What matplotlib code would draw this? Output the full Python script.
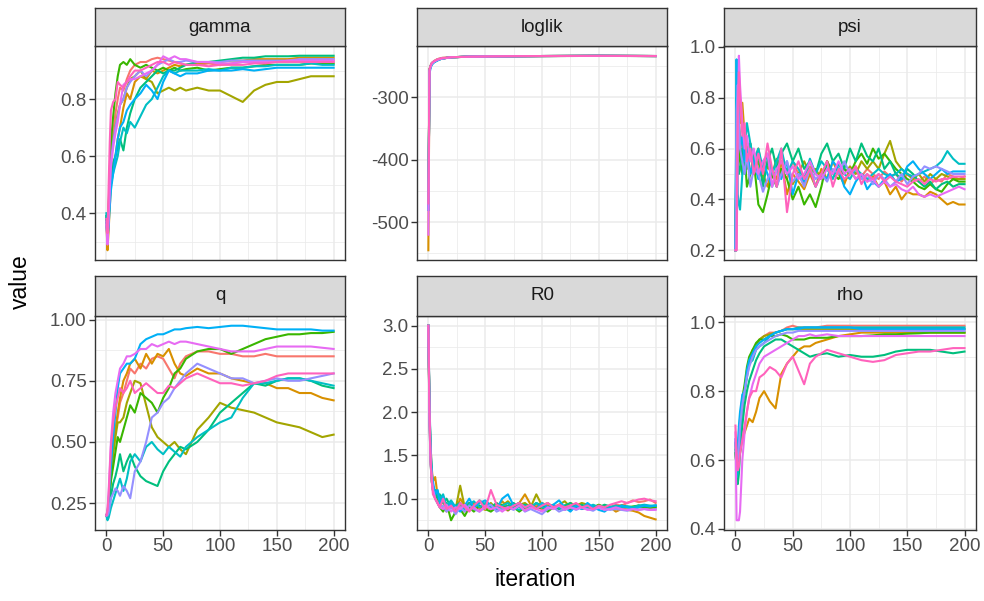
import matplotlib
matplotlib.use("Agg")
import matplotlib.pyplot as plt
from matplotlib.ticker import FixedLocator
import numpy as np

plt.rcParams['font.family'] = ['Liberation Sans', 'DejaVu Sans']

# ---------------- data ----------------
chain_colors = ["#F8766D", "#D89000", "#A3A500", "#39B600", "#00BF7D",
                "#00BFC4", "#00B0F6", "#9590FF", "#E76BF3", "#FF62BC"]

it_trend = [0, 1, 2, 3, 4, 6, 8, 10, 12, 15, 18, 21, 25, 30, 35, 40, 45, 50, 55, 60,
            65, 70, 80, 90, 100, 110, 120, 130, 140, 150, 160, 170, 180, 190, 200]
it_fast = [0, 1, 2, 3, 4, 6, 8, 10, 13, 16, 20, 24, 28, 32, 36, 40, 45, 50, 55, 60,
           65, 70, 75, 80, 85, 90, 95, 100, 105, 110, 115, 120, 125, 130, 135, 140,
           145, 150, 155, 160, 165, 170, 175, 180, 185, 190, 195, 200]
it_ll = [0, 1, 2, 3, 5, 8, 12, 20, 35, 60, 100, 150, 200]

gamma = [
    [0.38,0.32,0.42,0.52,0.6,0.68,0.75,0.8,0.84,0.83,0.87,0.9,0.92,0.93,0.93,0.94,0.945,0.94,0.935,0.93,0.925,0.92,0.92,0.925,0.92,0.925,0.93,0.93,0.93,0.93,0.93,0.935,0.935,0.935,0.935],
    [0.37,0.27,0.34,0.42,0.5,0.56,0.6,0.66,0.7,0.77,0.82,0.8,0.86,0.88,0.87,0.9,0.89,0.9,0.91,0.92,0.915,0.92,0.925,0.93,0.93,0.935,0.935,0.94,0.94,0.94,0.94,0.945,0.945,0.945,0.945],
    [0.39,0.31,0.4,0.5,0.58,0.66,0.7,0.75,0.78,0.8,0.84,0.87,0.88,0.9,0.87,0.86,0.82,0.83,0.84,0.83,0.84,0.83,0.84,0.83,0.83,0.81,0.79,0.83,0.85,0.86,0.86,0.87,0.88,0.88,0.88],
    [0.38,0.3,0.42,0.55,0.65,0.74,0.82,0.88,0.92,0.93,0.92,0.94,0.92,0.91,0.92,0.91,0.9,0.91,0.9,0.91,0.9,0.905,0.91,0.9,0.905,0.91,0.91,0.915,0.92,0.92,0.92,0.92,0.925,0.925,0.925],
    [0.39,0.3,0.38,0.46,0.52,0.58,0.6,0.63,0.66,0.62,0.7,0.75,0.8,0.84,0.86,0.88,0.9,0.89,0.9,0.9,0.91,0.92,0.93,0.93,0.935,0.94,0.945,0.945,0.95,0.95,0.95,0.952,0.952,0.952,0.952],
    [0.4,0.32,0.38,0.45,0.5,0.54,0.57,0.6,0.65,0.7,0.68,0.72,0.7,0.74,0.78,0.8,0.84,0.88,0.9,0.89,0.9,0.9,0.9,0.905,0.9,0.91,0.91,0.915,0.915,0.92,0.92,0.92,0.925,0.92,0.92],
    [0.38,0.3,0.36,0.42,0.48,0.54,0.6,0.66,0.7,0.72,0.76,0.78,0.8,0.82,0.85,0.83,0.8,0.86,0.9,0.89,0.88,0.89,0.89,0.9,0.9,0.9,0.905,0.9,0.905,0.91,0.91,0.91,0.91,0.91,0.91],
    [0.37,0.3,0.4,0.5,0.58,0.65,0.7,0.74,0.78,0.8,0.84,0.86,0.88,0.9,0.88,0.9,0.92,0.93,0.94,0.93,0.93,0.935,0.93,0.93,0.93,0.935,0.935,0.935,0.935,0.935,0.935,0.94,0.94,0.94,0.94],
    [0.36,0.29,0.38,0.48,0.56,0.63,0.68,0.72,0.78,0.85,0.86,0.87,0.87,0.88,0.89,0.9,0.92,0.95,0.94,0.95,0.94,0.94,0.93,0.93,0.925,0.925,0.93,0.93,0.93,0.93,0.935,0.935,0.935,0.935,0.935],
    [0.38,0.33,0.5,0.65,0.76,0.79,0.8,0.86,0.85,0.84,0.86,0.88,0.9,0.9,0.91,0.92,0.93,0.93,0.92,0.93,0.925,0.92,0.92,0.915,0.92,0.92,0.92,0.925,0.925,0.93,0.93,0.93,0.93,0.93,0.93],
]

loglik = [
    [-480,-256,-250,-246,-243,-240,-238,-236,-235,-234.5,-234,-233.8,-234],
    [-545,-257,-251,-247,-243,-240,-238,-236,-235,-234.5,-234,-233.6,-234],
    [-480,-255,-249,-246,-242,-239,-237,-236,-235,-234.5,-234,-233.7,-234],
    [-480,-256,-250,-245,-243,-240,-238,-236,-235,-234.5,-234,-233.8,-234],
    [-480,-257,-250,-246,-243,-240,-238,-236,-235,-234.5,-234,-233.5,-234],
    [-480,-258,-251,-247,-244,-241,-238,-236,-235,-234.5,-234,-233.7,-234],
    [-480,-262,-253,-248,-244,-241,-238,-236,-235,-234.5,-234,-233.6,-234],
    [-480,-256,-250,-246,-243,-240,-238,-236,-235,-234.5,-234,-233.8,-234],
    [-520,-258,-251,-246,-243,-240,-238,-236,-235,-234.5,-234,-233.7,-234],
    [-470,-255,-249,-245,-242,-239,-237,-236,-235,-234.5,-234,-233.6,-234],
]

psi = [
    [0.2,0.7,0.8,0.72,0.65,0.6,0.62,0.55,0.5,0.58,0.52,0.48,0.55,0.5,0.45,0.52,0.48,0.55,0.5,0.46,0.53,0.5,0.48,0.55,0.5,0.52,0.47,0.5,0.53,0.49,0.52,0.5,0.48,0.51,0.49,0.5,0.47,0.5,0.48,0.47,0.49,0.46,0.48,0.47,0.5,0.49,0.48,0.49],
    [0.2,0.65,0.75,0.8,0.7,0.78,0.65,0.6,0.62,0.55,0.6,0.5,0.45,0.52,0.48,0.55,0.42,0.5,0.47,0.44,0.5,0.45,0.52,0.48,0.55,0.5,0.46,0.52,0.48,0.5,0.47,0.49,0.45,0.47,0.42,0.45,0.4,0.43,0.42,0.42,0.41,0.43,0.42,0.4,0.38,0.39,0.38,0.38],
    [0.2,0.6,0.7,0.65,0.6,0.55,0.6,0.52,0.58,0.5,0.55,0.48,0.53,0.5,0.56,0.5,0.52,0.46,0.5,0.55,0.5,0.52,0.48,0.55,0.5,0.52,0.5,0.53,0.5,0.55,0.52,0.55,0.52,0.58,0.63,0.55,0.52,0.5,0.48,0.5,0.47,0.5,0.48,0.5,0.49,0.48,0.48,0.48],
    [0.2,0.65,0.7,0.6,0.55,0.5,0.58,0.45,0.5,0.55,0.38,0.35,0.42,0.5,0.45,0.52,0.48,0.4,0.45,0.38,0.42,0.37,0.45,0.55,0.5,0.48,0.52,0.5,0.55,0.58,0.54,0.6,0.56,0.58,0.55,0.52,0.5,0.48,0.47,0.45,0.44,0.46,0.44,0.43,0.46,0.48,0.47,0.47],
    [0.2,0.8,0.55,0.5,0.52,0.6,0.5,0.55,0.62,0.5,0.58,0.45,0.55,0.6,0.52,0.58,0.62,0.55,0.6,0.52,0.55,0.5,0.58,0.62,0.55,0.58,0.52,0.6,0.55,0.62,0.57,0.55,0.6,0.52,0.55,0.5,0.48,0.52,0.5,0.47,0.45,0.47,0.44,0.46,0.47,0.45,0.46,0.46],
    [0.2,0.95,0.42,0.38,0.36,0.5,0.6,0.7,0.62,0.55,0.6,0.52,0.58,0.5,0.55,0.6,0.5,0.55,0.52,0.48,0.56,0.5,0.55,0.52,0.48,0.54,0.5,0.48,0.52,0.5,0.48,0.5,0.52,0.5,0.49,0.5,0.52,0.5,0.49,0.5,0.51,0.52,0.53,0.55,0.59,0.56,0.54,0.54],
    [0.2,0.95,0.9,0.7,0.6,0.65,0.55,0.6,0.5,0.55,0.48,0.55,0.5,0.45,0.52,0.48,0.55,0.42,0.5,0.47,0.52,0.45,0.5,0.48,0.55,0.52,0.45,0.42,0.47,0.5,0.44,0.47,0.45,0.48,0.5,0.47,0.48,0.53,0.55,0.52,0.5,0.48,0.5,0.52,0.5,0.51,0.51,0.51],
    [0.2,0.75,0.85,0.7,0.6,0.55,0.5,0.58,0.45,0.52,0.5,0.43,0.48,0.52,0.45,0.5,0.55,0.47,0.5,0.45,0.52,0.48,0.5,0.47,0.52,0.5,0.55,0.5,0.52,0.48,0.5,0.46,0.5,0.48,0.45,0.47,0.5,0.46,0.49,0.5,0.53,0.52,0.53,0.52,0.51,0.5,0.5,0.5],
    [0.2,0.2,0.6,0.965,0.85,0.7,0.6,0.65,0.55,0.6,0.5,0.55,0.58,0.45,0.52,0.55,0.5,0.53,0.48,0.5,0.55,0.5,0.48,0.52,0.5,0.55,0.5,0.52,0.48,0.5,0.47,0.48,0.45,0.47,0.45,0.46,0.44,0.43,0.45,0.42,0.41,0.42,0.41,0.42,0.43,0.44,0.45,0.44],
    [0.2,0.2,0.75,0.9,0.8,0.65,0.7,0.55,0.6,0.5,0.58,0.5,0.62,0.52,0.45,0.6,0.35,0.5,0.55,0.48,0.52,0.45,0.5,0.55,0.45,0.52,0.48,0.5,0.53,0.46,0.5,0.48,0.5,0.47,0.49,0.47,0.46,0.45,0.47,0.48,0.46,0.48,0.47,0.48,0.48,0.49,0.49,0.49],
]

q = [
    [0.2,0.21,0.26,0.32,0.38,0.48,0.55,0.6,0.66,0.7,0.75,0.8,0.78,0.82,0.8,0.84,0.85,0.84,0.8,0.76,0.82,0.85,0.87,0.87,0.86,0.86,0.85,0.85,0.86,0.85,0.85,0.85,0.85,0.85,0.85],
    [0.2,0.21,0.25,0.3,0.38,0.48,0.55,0.62,0.68,0.75,0.78,0.82,0.84,0.8,0.86,0.82,0.86,0.85,0.88,0.82,0.78,0.77,0.8,0.78,0.78,0.76,0.75,0.74,0.74,0.72,0.72,0.7,0.7,0.68,0.67],
    [0.2,0.2,0.24,0.3,0.36,0.45,0.52,0.58,0.58,0.6,0.66,0.7,0.75,0.74,0.65,0.56,0.52,0.5,0.48,0.5,0.47,0.45,0.55,0.6,0.66,0.64,0.63,0.62,0.6,0.58,0.57,0.56,0.54,0.52,0.53],
    [0.2,0.21,0.24,0.28,0.34,0.4,0.46,0.52,0.5,0.55,0.6,0.65,0.62,0.7,0.68,0.66,0.62,0.68,0.72,0.78,0.8,0.84,0.87,0.88,0.88,0.86,0.88,0.9,0.92,0.93,0.94,0.94,0.945,0.945,0.95],
    [0.2,0.19,0.21,0.24,0.28,0.33,0.36,0.4,0.45,0.38,0.42,0.45,0.4,0.36,0.34,0.33,0.32,0.38,0.42,0.45,0.48,0.47,0.5,0.55,0.62,0.66,0.7,0.74,0.73,0.75,0.76,0.76,0.75,0.73,0.72],
    [0.2,0.18,0.19,0.21,0.23,0.26,0.29,0.32,0.35,0.3,0.35,0.42,0.45,0.42,0.48,0.5,0.47,0.45,0.48,0.46,0.44,0.48,0.52,0.55,0.58,0.6,0.68,0.74,0.74,0.75,0.76,0.76,0.75,0.74,0.73],
    [0.2,0.21,0.26,0.33,0.4,0.52,0.62,0.72,0.78,0.8,0.82,0.82,0.84,0.9,0.92,0.93,0.94,0.94,0.95,0.96,0.96,0.965,0.97,0.965,0.97,0.975,0.975,0.97,0.965,0.96,0.96,0.96,0.96,0.955,0.955],
    [0.2,0.2,0.21,0.24,0.27,0.29,0.31,0.3,0.28,0.32,0.3,0.27,0.38,0.42,0.5,0.6,0.62,0.66,0.68,0.72,0.75,0.78,0.82,0.8,0.78,0.76,0.76,0.74,0.75,0.76,0.75,0.75,0.76,0.77,0.78],
    [0.2,0.22,0.3,0.4,0.5,0.62,0.7,0.75,0.8,0.82,0.85,0.85,0.86,0.88,0.88,0.9,0.89,0.9,0.91,0.9,0.91,0.91,0.9,0.89,0.88,0.87,0.87,0.87,0.88,0.89,0.89,0.89,0.89,0.885,0.88],
    [0.2,0.22,0.28,0.38,0.48,0.58,0.64,0.68,0.72,0.7,0.72,0.75,0.7,0.72,0.74,0.72,0.7,0.7,0.73,0.72,0.74,0.76,0.78,0.76,0.74,0.74,0.73,0.74,0.75,0.77,0.78,0.78,0.78,0.78,0.78],
]

r0 = [
    [3.0,2.1,1.5,1.3,1.15,1.05,1.0,0.95,0.9,0.85,0.95,0.88,0.92,0.85,0.95,0.9,0.88,0.93,0.87,0.95,0.9,0.86,0.92,0.95,0.88,0.9,0.93,0.87,0.91,0.9,0.88,0.92,0.9,0.93,0.88,0.9,0.92,0.89,0.91,0.9,0.93,0.92,0.95,0.98,0.96,0.97,0.99,0.95],
    [3.0,2.0,1.6,1.35,1.2,1.25,1.05,0.95,1.0,0.9,0.95,0.85,1.0,0.92,0.88,0.95,0.9,0.87,0.92,0.9,0.97,0.9,0.92,0.95,1.05,0.93,0.9,0.95,0.92,0.88,0.93,0.9,0.95,0.92,0.9,0.88,0.92,0.9,0.88,0.9,0.85,0.88,0.87,0.86,0.84,0.8,0.78,0.76],
    [3.0,1.9,1.4,1.2,1.1,1.05,0.98,1.02,0.95,0.9,0.93,0.88,1.15,0.9,0.95,0.88,0.92,0.9,0.95,0.88,0.92,0.97,0.9,0.93,0.95,0.9,1.05,0.92,0.95,0.9,0.93,0.97,0.9,0.92,0.95,0.93,0.9,0.92,0.91,0.89,0.9,0.88,0.9,0.89,0.9,0.9,0.89,0.9],
    [3.0,1.95,1.45,1.2,1.1,1.0,0.95,0.9,0.85,0.95,0.75,0.85,0.88,0.8,0.9,0.85,0.92,0.88,0.85,0.9,0.93,0.87,0.9,0.85,0.9,0.92,0.88,0.9,0.85,0.9,0.88,0.92,0.87,0.9,0.92,0.88,0.9,0.93,0.9,0.88,0.9,0.92,0.9,0.91,0.92,0.9,0.91,0.9],
    [3.0,2.0,1.5,1.25,1.1,1.1,1.0,1.05,0.95,1.0,0.9,0.92,0.95,0.88,0.95,0.9,0.98,0.93,0.9,0.95,0.88,0.92,0.95,0.9,0.93,0.9,0.95,0.92,0.9,0.93,0.88,0.92,0.95,0.9,0.93,0.9,0.92,0.9,0.93,0.91,0.9,0.92,0.91,0.9,0.92,0.91,0.91,0.92],
    [3.0,2.05,1.55,1.3,1.15,1.05,1.1,1.0,1.05,0.92,0.98,0.9,0.95,0.88,0.93,0.97,0.9,0.95,0.9,0.88,0.92,0.95,0.9,0.87,0.92,0.9,0.95,0.9,0.88,0.92,0.9,0.87,0.9,0.92,0.88,0.9,0.93,0.9,0.88,0.9,0.92,0.9,0.91,0.9,0.92,0.93,0.92,0.92],
    [3.0,2.1,1.6,1.3,1.2,1.05,1.1,0.95,1.02,0.88,0.95,0.9,0.85,0.92,1.0,0.9,0.95,0.98,0.92,0.88,1.0,1.05,0.92,0.95,0.9,0.93,0.88,0.95,0.9,0.93,0.98,0.9,0.85,0.92,0.88,0.95,0.9,0.87,0.85,0.9,0.88,0.92,0.9,0.88,0.9,0.92,0.91,0.92],
    [3.0,1.85,1.4,1.2,1.1,1.0,0.95,0.9,0.92,0.85,0.9,0.82,0.9,0.85,0.92,0.88,0.85,0.9,0.93,0.85,0.88,0.9,0.87,0.92,0.85,0.88,0.85,0.82,0.88,0.9,0.85,0.88,0.9,0.87,0.9,0.88,0.86,0.9,0.88,0.87,0.88,0.87,0.86,0.88,0.87,0.88,0.87,0.88],
    [3.0,1.9,1.4,1.25,1.1,1.0,0.95,0.9,0.88,0.93,0.85,0.9,0.88,0.93,0.87,0.9,0.85,0.92,0.88,0.9,0.85,0.9,0.88,0.92,0.86,0.9,0.88,0.85,0.9,0.88,0.92,0.87,0.9,0.88,0.9,0.87,0.88,0.9,0.87,0.88,0.9,0.88,0.87,0.88,0.87,0.88,0.87,0.87],
    [3.0,2.0,1.45,1.2,1.05,1.0,0.95,0.9,1.0,0.88,0.92,0.85,0.95,0.9,0.85,0.92,0.98,0.88,1.1,0.93,0.9,0.88,0.92,0.95,0.9,0.93,0.88,0.92,0.95,0.9,0.93,0.9,0.92,0.95,0.9,0.92,0.88,0.92,0.9,0.93,0.95,0.97,0.95,0.97,0.99,1.0,0.98,0.97],
]

rho = [
    [0.65,0.6,0.6,0.64,0.68,0.74,0.8,0.85,0.88,0.91,0.93,0.95,0.96,0.97,0.97,0.975,0.985,0.99,0.985,0.985,0.985,0.985,0.99,0.99,0.99,0.99,0.99,0.99,0.99,0.99,0.99,0.99,0.99,0.99,0.99],
    [0.65,0.6,0.58,0.6,0.62,0.66,0.68,0.7,0.72,0.71,0.74,0.78,0.8,0.77,0.75,0.85,0.88,0.9,0.92,0.93,0.93,0.94,0.95,0.96,0.965,0.97,0.97,0.97,0.97,0.97,0.97,0.97,0.97,0.97,0.97],
    [0.62,0.58,0.58,0.64,0.7,0.76,0.8,0.85,0.89,0.92,0.93,0.95,0.96,0.965,0.97,0.975,0.98,0.98,0.98,0.98,0.98,0.98,0.98,0.98,0.98,0.98,0.98,0.98,0.98,0.98,0.98,0.98,0.98,0.98,0.98],
    [0.62,0.58,0.58,0.66,0.72,0.78,0.82,0.87,0.9,0.92,0.94,0.95,0.95,0.96,0.96,0.965,0.96,0.95,0.95,0.95,0.955,0.955,0.955,0.96,0.96,0.96,0.962,0.965,0.965,0.967,0.968,0.97,0.97,0.97,0.97],
    [0.63,0.57,0.53,0.56,0.62,0.7,0.76,0.8,0.83,0.86,0.89,0.91,0.93,0.94,0.95,0.95,0.94,0.93,0.92,0.91,0.9,0.905,0.91,0.9,0.905,0.9,0.9,0.905,0.915,0.92,0.92,0.92,0.915,0.91,0.915],
    [0.65,0.55,0.56,0.62,0.68,0.76,0.8,0.84,0.88,0.89,0.92,0.93,0.94,0.96,0.97,0.975,0.98,0.98,0.985,0.985,0.985,0.985,0.985,0.985,0.985,0.985,0.985,0.985,0.985,0.985,0.985,0.985,0.985,0.985,0.985],
    [0.66,0.6,0.64,0.7,0.74,0.79,0.8,0.86,0.89,0.91,0.93,0.94,0.95,0.96,0.97,0.975,0.98,0.98,0.98,0.985,0.985,0.985,0.985,0.985,0.985,0.98,0.98,0.98,0.98,0.98,0.98,0.98,0.98,0.98,0.98],
    [0.66,0.6,0.6,0.64,0.7,0.76,0.8,0.84,0.87,0.9,0.92,0.93,0.94,0.95,0.96,0.965,0.97,0.97,0.975,0.975,0.975,0.975,0.975,0.975,0.975,0.975,0.975,0.975,0.975,0.975,0.975,0.975,0.975,0.975,0.975],
    [0.68,0.425,0.425,0.425,0.45,0.6,0.68,0.74,0.78,0.82,0.85,0.88,0.9,0.91,0.92,0.93,0.94,0.95,0.96,0.96,0.965,0.96,0.965,0.96,0.96,0.96,0.96,0.96,0.96,0.96,0.96,0.96,0.96,0.96,0.96],
    [0.7,0.62,0.57,0.58,0.62,0.66,0.7,0.74,0.78,0.8,0.8,0.84,0.85,0.87,0.86,0.84,0.88,0.9,0.86,0.82,0.88,0.9,0.92,0.91,0.9,0.89,0.885,0.89,0.905,0.91,0.915,0.915,0.92,0.925,0.925],
]

panel_names = ["gamma", "loglik", "psi", "q", "R0", "rho"]
panel_series = [gamma, loglik, psi, q, r0, rho]
panel_iters = [it_trend, it_ll, it_fast, it_trend, it_fast, it_trend]
y_ticks = [[0.4, 0.6, 0.8], [-500, -400, -300], [0.2, 0.4, 0.6, 0.8, 1.0],
           [0.25, 0.50, 0.75, 1.00], [1.0, 1.5, 2.0, 2.5, 3.0], [0.4, 0.6, 0.8, 1.0]]
y_labels = [["0.4", "0.6", "0.8"], ["-500", "-400", "-300"], ["0.2", "0.4", "0.6", "0.8", "1.0"],
            ["0.25", "0.50", "0.75", "1.00"], ["1.0", "1.5", "2.0", "2.5", "3.0"],
            ["0.4", "0.6", "0.8", "1.0"]]
x_ticks = [0, 50, 100, 150, 200]
x_labels = ["0", "50", "100", "150", "200"]

# ---------------- layout ----------------
W, H = 984, 601
fig = plt.figure(figsize=(W / 100, H / 100), dpi=100)

cols = [(95, 345), (417, 667), (724, 976)]
rows = [(8, 46, 260), (276, 316, 530)]  # strip top, panel top, panel bottom

def rect(x0, x1, y0, y1):
    return [x0 / W, 1 - y1 / H, (x1 - x0) / W, (y1 - y0) / H]

border = "#333333"
for k, name in enumerate(panel_names):
    r, c = divmod(k, 3)
    x0, x1 = cols[c]
    st, pt, pb = rows[r]
    ax = fig.add_axes(rect(x0, x1, pt, pb))
    sax = fig.add_axes(rect(x0, x1, st, pt))

    for i, ser in enumerate(panel_series[k]):
        ax.plot(panel_iters[k], ser, color=chain_colors[i], lw=1.5, solid_joinstyle="round")

    allv = np.array(panel_series[k], dtype=float)
    lo, hi = allv.min(), allv.max()
    pad = 0.05 * (hi - lo)
    ax.set_ylim(lo - pad, hi + pad)
    ax.set_xlim(-10, 210)

    yt = y_ticks[k]
    step = yt[1] - yt[0]
    ax.yaxis.set_major_locator(FixedLocator(yt))
    ax.set_yticklabels(y_labels[k])
    minors = [yt[0] - step / 2] + [v + step / 2 for v in yt]
    ax.yaxis.set_minor_locator(FixedLocator(minors))
    ax.xaxis.set_major_locator(FixedLocator(x_ticks))
    ax.xaxis.set_minor_locator(FixedLocator([25, 75, 125, 175]))
    if r == 1:
        ax.set_xticklabels(x_labels)
        ax.tick_params(axis="x", which="major", length=4, width=1, color=border,
                       labelsize=13.5, labelcolor="#4D4D4D", pad=2)
    else:
        ax.tick_params(axis="x", which="major", length=0, labelbottom=False)
    ax.tick_params(axis="y", which="major", length=4, width=1, color=border,
                   labelsize=13.5, labelcolor="#4D4D4D", pad=2)
    ax.tick_params(which="minor", length=0)

    ax.grid(True, which="major", color="#EBEBEB", lw=1.1)
    ax.grid(True, which="minor", color="#EBEBEB", lw=0.55)
    ax.set_axisbelow(True)
    for sp in ax.spines.values():
        sp.set_color(border)
        sp.set_linewidth(1.0)

    sax.set_facecolor("#D9D9D9")
    sax.set_xticks([])
    sax.set_yticks([])
    for sp in sax.spines.values():
        sp.set_color(border)
        sp.set_linewidth(1.0)
    sax.text(0.5, 0.5, name, ha="center", va="center", fontsize=13.5,
             color="#1A1A1A", transform=sax.transAxes)

fig.text(20 / W, 1 - 282 / H, "value", rotation=90, ha="center", va="center",
         fontsize=16.5, color="black")
fig.text(535 / W, 1 - 580 / H, "iteration", ha="center", va="center",
         fontsize=16.5, color="black")

fig.savefig("out.png", dpi=100, facecolor="white")
